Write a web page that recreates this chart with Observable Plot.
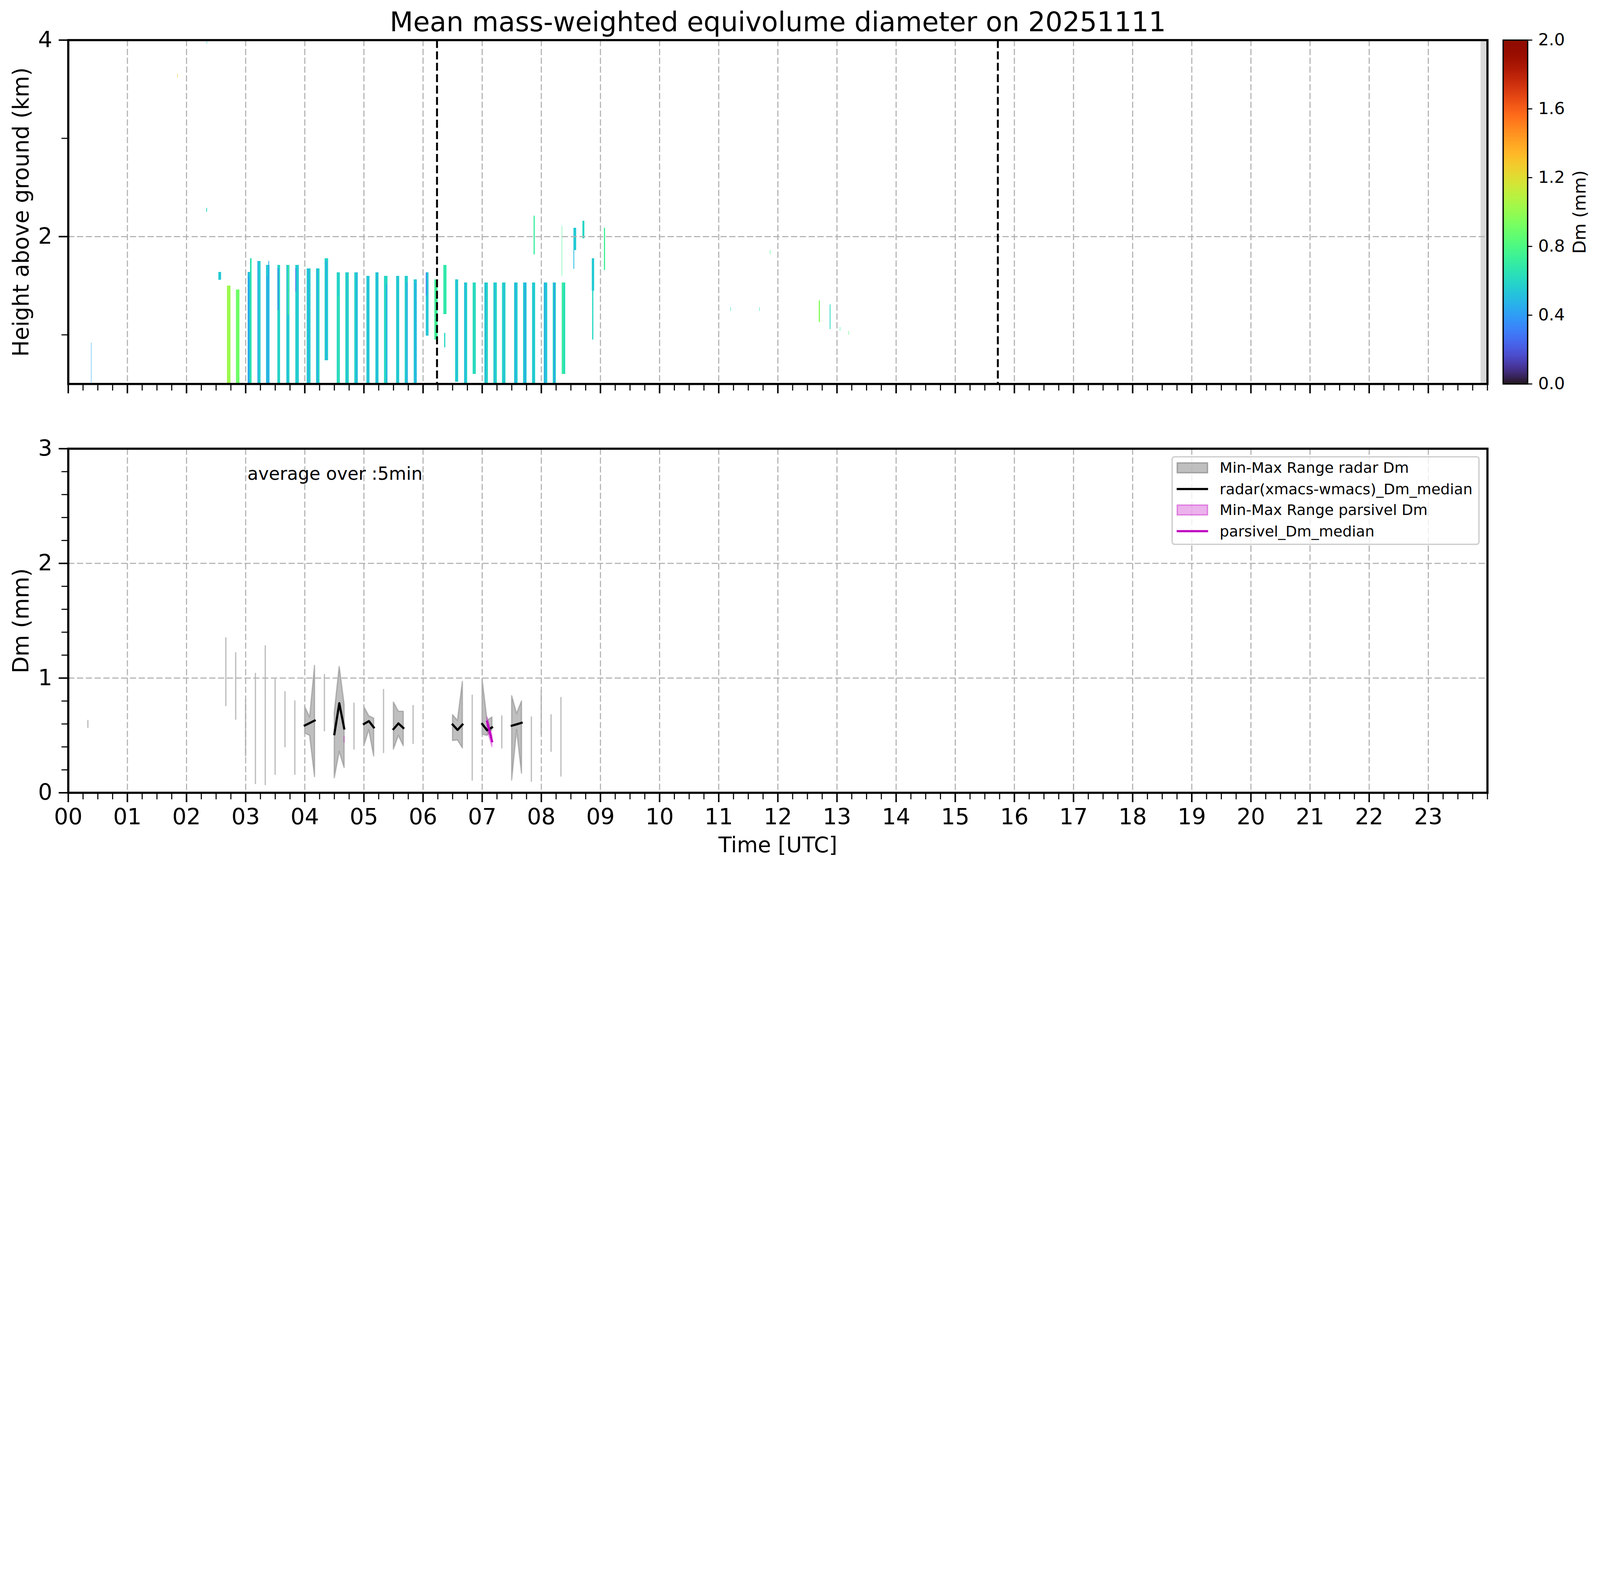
<!DOCTYPE html>
<html>
<head>
<meta charset="utf-8">
<script src="https://cdn.jsdelivr.net/npm/d3@7"></script>
<script src="https://cdn.jsdelivr.net/npm/@observablehq/plot@0.6"></script>
<style>
html, body { margin: 0; padding: 0; background: #fff; overflow: hidden; }
#fig { position: relative; width: 7442px; height: 4031px; background: #fff; font-family: 'DejaVu Sans', sans-serif; overflow: hidden; transform-origin: 0 0; }
</style>
</head>
<body>
<div id="fig"></div>
<script>
// ---------------- text ----------------
const titleText = "Mean mass-weighted equivolume diameter on 20251111";
const topYLabel = "Height above ground (km)";
const bottomYLabel = "Dm (mm)";
const xLabel = "Time [UTC]";
const colorbarLabel = "Dm (mm)";
const avgText = "average over :5min";
const legendLabels = ["Min-Max Range radar Dm", "radar(xmacs-wmacs)_Dm_median", "Min-Max Range parsivel Dm", "parsivel_Dm_median"];

// ---------------- ticks ----------------
const hourLabels = ["00","01","02","03","04","05","06","07","08","09","10","11","12","13","14","15","16","17","18","19","20","21","22","23"];
const heightTicks = [2, 4];
const heightMinorTicks = [1, 3];
const dmTicks = [0, 1, 2, 3];
const dmMinorTicks = [0.2, 0.4, 0.6, 0.8, 1.2, 1.4, 1.6, 1.8, 2.2, 2.4, 2.6, 2.8];
const colorbarTicks = [0.0, 0.4, 0.8, 1.2, 1.6, 2.0];

// ---------------- top panel: radar Dm curtains (hours UTC, km, mm) ----------------
const curtainStart = [2.688, 2.837, 2.543, 3.036, 3.072, 3.199, 3.344, 3.538, 3.688, 3.842, 4.036, 4.190, 4.339, 4.543, 4.688, 4.837, 5.041, 5.195, 5.344, 5.543, 5.692, 5.842, 6.045, 6.195, 6.344, 6.357, 6.543, 6.692, 6.842, 7.041, 7.190, 7.339, 7.543, 7.692, 7.846, 8.041, 8.195, 8.344,
  7.873, 8.344, 8.548, 8.548, 8.700, 8.853, 8.862, 9.060,
  0.385, 2.333, 1.846, 2.343, 11.198, 11.688, 11.870, 12.695, 12.878, 13.048, 13.198];
const curtainEnd = [2.747, 2.896, 2.588, 3.072, 3.100, 3.253, 3.403, 3.584, 3.742, 3.900, 4.100, 4.249, 4.394, 4.593, 4.747, 4.896, 5.095, 5.249, 5.398, 5.597, 5.747, 5.896, 6.095, 6.249, 6.398, 6.380, 6.597, 6.747, 6.896, 7.100, 7.249, 7.398, 7.597, 7.751, 7.896, 8.104, 8.249, 8.403,
  7.888, 8.356, 8.593, 8.560, 8.730, 8.895, 8.880, 9.078,
  0.392, 2.350, 1.852, 2.350, 11.206, 11.694, 11.874, 12.712, 12.890, 13.054, 13.204];
const curtainBase = [0.5, 0.5, 1.56, 0.5, 0.5, 0.5, 0.5, 0.5, 0.5, 0.5, 0.5, 0.5, 0.74, 0.5, 0.5, 0.5, 0.5, 0.5, 0.5, 0.5, 0.5, 0.5, 0.99, 0.95, 1.21, 0.87, 0.52, 0.5, 0.60, 0.5, 0.5, 0.5, 0.5, 0.5, 0.5, 0.5, 0.5, 0.60,
  1.82, 1.60, 1.86, 1.67, 1.98, 1.45, 0.95, 1.66,
  0.51, 2.25, 3.62, 3.96, 1.24, 1.24, 1.82, 1.13, 1.06, 1.04, 1.00];
const curtainTop = [1.50, 1.46, 1.64, 1.64, 1.78, 1.75, 1.71, 1.71, 1.71, 1.71, 1.675, 1.675, 1.78, 1.637, 1.637, 1.637, 1.60, 1.637, 1.60, 1.60, 1.60, 1.565, 1.637, 1.565, 1.71, 1.02, 1.565, 1.53, 1.53, 1.53, 1.53, 1.53, 1.53, 1.53, 1.53, 1.53, 1.53, 1.53,
  2.21, 2.11, 2.09, 1.86, 2.16, 1.78, 1.45, 2.09,
  0.92, 2.29, 3.66, 3.99, 1.28, 1.28, 1.86, 1.35, 1.31, 1.08, 1.04];
const curtainDm = [1.02, 0.90, 0.55, 0.52, 0.66, 0.57, 0.54, 0.59, 0.58, 0.56, 0.58, 0.60, 0.59, 0.59, 0.61, 0.58, 0.56, 0.57, 0.60, 0.58, 0.57, 0.55, 0.54, 0.70, 0.68, 0.60, 0.60, 0.58, 0.62, 0.59, 0.60, 0.61, 0.57, 0.56, 0.58, 0.55, 0.59, 0.64,
  0.72, 0.75, 0.55, 0.50, 0.60, 0.55, 0.60, 0.74,
  0.45, 0.60, 1.30, 0.60, 0.60, 0.70, 0.80, 0.95, 0.62, 0.75, 0.80];

// narrow streaks of differing Dm inside the curtains
const streakTime = [3.050, 3.208, 3.367, 3.394, 3.552, 3.710, 3.720, 3.851, 4.063, 4.215, 4.367, 4.566, 4.716, 4.878, 5.068, 5.222, 5.385, 5.575, 5.733, 5.878, 6.054, 6.217, 6.570, 6.715, 7.059, 7.215, 7.370, 7.566, 7.724, 7.873, 8.063, 8.222, 8.362];
const streakBase = [0.5, 0.5, 0.5, 0.5, 1.25, 0.5, 1.20, 1.44, 0.5, 0.5, 0.74, 0.5, 0.5, 0.5, 0.5, 0.5, 0.5, 0.5, 0.5, 0.5, 1.40, 0.95, 0.52, 0.5, 0.5, 0.5, 0.5, 0.5, 0.5, 0.5, 0.5, 0.5, 0.60];
const streakTop = [1.60, 1.75, 1.60, 1.75, 1.68, 1.71, 1.71, 1.68, 1.675, 1.675, 1.75, 1.40, 1.637, 1.637, 1.60, 1.637, 1.51, 1.60, 1.53, 1.53, 1.637, 1.565, 1.565, 1.53, 1.53, 1.53, 1.53, 1.53, 1.53, 1.53, 1.53, 1.53, 1.53];
const streakDm = [0.38, 0.42, 0.40, 0.45, 0.30, 0.48, 0.80, 0.30, 0.45, 0.45, 0.45, 0.72, 0.46, 0.42, 0.48, 0.44, 0.42, 0.48, 0.42, 0.42, 0.30, 0.85, 0.45, 0.45, 0.45, 0.46, 0.44, 0.42, 0.40, 0.50, 0.42, 0.35, 0.78];

const dayNightLines = [6.236, 15.72];   // dashed vertical markers (hours UTC)
const noDataStart = [23.885];
const noDataEnd = [24];

// ---------------- bottom panel: 5-min Dm statistics ----------------
const radarTime = ["00:20","02:40","02:50","03:00","03:10","03:20","03:30","03:40","03:50","04:00","04:05","04:10","04:20","04:30","04:35","04:40","04:50","05:00","05:05","05:10","05:20","05:30","05:35","05:40","05:50","06:30","06:35","06:40","06:50","07:00","07:05","07:10","07:20","07:30","07:35","07:40","07:50","08:00","08:10","08:20"];
const radarMin = [0.57,0.76,0.64,0.32,0.08,0.07,0.16,0.40,0.16,0.52,0.50,0.14,0.54,0.13,0.36,0.22,0.38,0.41,0.55,0.32,0.35,0.38,0.50,0.41,0.43,0.455,0.46,0.39,0.11,0.51,0.50,0.55,0.39,0.11,0.55,0.17,0.10,0.51,0.36,0.145];
const radarMax = [0.63,1.35,1.22,0.81,1.04,1.28,0.99,0.88,0.80,0.75,0.66,1.11,1.03,0.70,1.10,0.77,0.78,0.75,0.67,0.65,0.90,0.79,0.71,0.71,0.76,0.68,0.63,0.97,0.85,0.99,0.63,0.66,0.67,0.845,0.69,0.80,0.66,0.89,0.68,0.83];
const radarMedian = [null,null,null,null,null,null,null,null,null,0.587,0.608,0.63,null,0.511,0.781,0.56,null,0.60,0.625,0.57,null,0.555,0.605,0.565,null,0.595,0.548,0.595,null,0.60,0.545,0.57,null,0.585,0.597,0.61,null,null,null,null];

const parsivelTime = ["04:40","07:05","07:10"];
const parsivelMin = [0.44, 0.55, 0.40];
const parsivelMax = [0.49, 0.66, 0.50];
const parsivelMedian = [null, 0.62, 0.45];

// ---------------- helpers ----------------
const FONT = "'DejaVu Sans', sans-serif";
const W = 7442, H = 4031;
const fig = document.getElementById("fig");
function place(el, left, top) {
  el.style.position = "absolute";
  el.style.left = left + "px";
  el.style.top = top + "px";
  fig.appendChild(el);
}
const toHours = s => { const [h, m] = s.split(":").map(Number); return h + m / 60; };
// rows with a break wherever consecutive 5-min samples are missing
function seriesRows(times, mins, maxs, meds) {
  const rows = [];
  let lastT = null;
  times.forEach((s, i) => {
    const t = toHours(s);
    if (lastT !== null && t - lastT > 5.5 / 60) rows.push({t: null, min: null, max: null, med: null});
    rows.push({t, min: mins[i], max: maxs[i], med: meds[i]});
    lastT = t;
  });
  return rows;
}
const radarRows = seriesRows(radarTime, radarMin, radarMax, radarMedian);
const parsivelRows = seriesRows(parsivelTime, parsivelMin, parsivelMax, parsivelMedian);

const hoursMajor = d3.range(0, 24);
const hoursMinor = d3.range(0, 97).map(q => q / 4).filter(h => h % 1 !== 0 || h === 24);
const gridColor = "#b0b0b0";
const gridDash = "29,12";
const heightDomain = [0.5, 4];

const curtains = d3.range(curtainStart.length);
const streaks = d3.range(streakTime.length);
const streakHalf = 0.007;

// ---------------- top panel ----------------
const topPlot = Plot.plot({
  width: W, height: 1900,
  marginLeft: 317, marginRight: W - 6918, marginTop: 186, marginBottom: 115,
  style: {fontFamily: FONT, color: "black", background: "transparent", overflow: "visible"},
  x: {domain: [0, 24], axis: null},
  y: {domain: heightDomain, axis: null},
  color: {type: "linear", scheme: "turbo", domain: [0, 2]},
  marks: [
    Plot.rect(curtains, {x1: i => curtainStart[i], x2: i => curtainEnd[i], y1: i => curtainBase[i], y2: i => curtainTop[i], fill: i => curtainDm[i], shapeRendering: "crispEdges"}),
    Plot.rect(streaks, {x1: i => streakTime[i] - streakHalf, x2: i => streakTime[i] + streakHalf, y1: i => streakBase[i], y2: i => streakTop[i], fill: i => streakDm[i], shapeRendering: "crispEdges"}),
    Plot.rect(d3.range(noDataStart.length), {x1: i => noDataStart[i], x2: i => noDataEnd[i], y1: () => heightDomain[0], y2: () => heightDomain[1], fill: "#d9d9d9"}),
    Plot.gridX({ticks: hoursMajor.slice(1), stroke: gridColor, strokeOpacity: 1, strokeWidth: 5, strokeDasharray: gridDash}),
    Plot.gridY({ticks: [2], stroke: gridColor, strokeOpacity: 1, strokeWidth: 5, strokeDasharray: gridDash}),
    Plot.ruleX(dayNightLines, {stroke: "black", strokeWidth: 9, strokeDasharray: "37,16"}),
    Plot.frame({stroke: "black", strokeWidth: 10}),
    Plot.axisX({ticks: hoursMajor, tickSize: 44, strokeWidth: 7, tickFormat: () => "", label: null}),
    Plot.axisX({ticks: hoursMinor, tickSize: 31, strokeWidth: 5, tickFormat: () => "", label: null}),
    Plot.axisY({ticks: heightTicks, tickSize: 44, tickPadding: 30, strokeWidth: 7, fontSize: 104, tickFormat: d => String(d), label: null}),
    Plot.axisY({ticks: heightMinorTicks, tickSize: 31, strokeWidth: 5, tickFormat: () => "", label: null}),
    Plot.text([topYLabel], {frameAnchor: "left", dx: -218, rotate: -90, fontSize: 102, textAnchor: "middle", lineAnchor: "middle"}),
    Plot.text([titleText], {frameAnchor: "top", dy: -41, lineAnchor: "bottom", textAnchor: "middle", fontSize: 126})
  ]
});
place(topPlot, 0, 0);

// ---------------- colorbar ----------------
const cbBands = d3.range(0, 400).map(k => k * 0.005);
const cbPlot = Plot.plot({
  width: 501, height: 1900,
  marginLeft: 50, marginRight: 337, marginTop: 186, marginBottom: 115,
  style: {fontFamily: FONT, color: "black", background: "transparent", overflow: "visible"},
  x: {domain: [0, 1], axis: null},
  y: {domain: [0, 2], axis: null},
  color: {type: "linear", scheme: "turbo", domain: [0, 2]},
  marks: [
    Plot.rect(cbBands, {x1: () => 0, x2: () => 1, y1: d => d, y2: d => d + 0.0052, fill: d => d + 0.0025, shapeRendering: "crispEdges"}),
    Plot.frame({stroke: "black", strokeWidth: 6}),
    Plot.axisY({anchor: "right", ticks: colorbarTicks, tickSize: 21, tickPadding: 28, strokeWidth: 5, fontSize: 78, tickFormat: d => d.toFixed(1), label: null}),
    Plot.text([colorbarLabel], {frameAnchor: "right", dx: 243, rotate: -90, fontSize: 81, textAnchor: "middle", lineAnchor: "middle"})
  ]
});
place(cbPlot, 6941, 0);

// ---------------- bottom panel ----------------
const bottomPlot = Plot.plot({
  width: W, height: 2131,
  marginLeft: 317, marginRight: W - 6918, marginTop: 186, marginBottom: 345,
  style: {fontFamily: FONT, color: "black", background: "transparent", overflow: "visible"},
  x: {domain: [0, 24], axis: null},
  y: {domain: [0, 3], axis: null},
  marks: [
    Plot.areaY(radarRows, {x: "t", y1: "min", y2: "max", fill: "gray", fillOpacity: 0.5, stroke: "gray", strokeOpacity: 0.5, strokeWidth: 6}),
    Plot.areaY(parsivelRows, {x: "t", y1: "min", y2: "max", fill: "#bf00bf", fillOpacity: 0.3, stroke: "#bf00bf", strokeOpacity: 0.3, strokeWidth: 6}),
    Plot.gridX({ticks: hoursMajor.slice(1), stroke: gridColor, strokeOpacity: 1, strokeWidth: 5, strokeDasharray: gridDash}),
    Plot.gridY({ticks: [1, 2], stroke: gridColor, strokeOpacity: 1, strokeWidth: 5, strokeDasharray: gridDash}),
    Plot.lineY(radarRows, {x: "t", y: "med", stroke: "black", strokeWidth: 10, strokeLinecap: "square"}),
    Plot.lineY(parsivelRows, {x: "t", y: "med", stroke: "#bf00bf", strokeWidth: 10, strokeLinecap: "square"}),
    Plot.frame({stroke: "black", strokeWidth: 10}),
    Plot.axisX({ticks: hoursMajor, tickSize: 44, tickPadding: 30, strokeWidth: 7, fontSize: 104, tickFormat: h => hourLabels[h], label: null}),
    Plot.axisX({ticks: hoursMinor, tickSize: 31, strokeWidth: 5, tickFormat: () => "", label: null}),
    Plot.axisY({ticks: dmTicks, tickSize: 44, tickPadding: 30, strokeWidth: 7, fontSize: 104, tickFormat: d => String(d), label: null}),
    Plot.axisY({ticks: dmMinorTicks, tickSize: 31, strokeWidth: 5, tickFormat: () => "", label: null}),
    Plot.text([bottomYLabel], {frameAnchor: "left", dx: -218, rotate: -90, fontSize: 102, textAnchor: "middle", lineAnchor: "middle"}),
    Plot.text([xLabel], {frameAnchor: "bottom", dy: 276, lineAnchor: "bottom", textAnchor: "middle", fontSize: 100}),
    Plot.text([avgText], {frameAnchor: "top-left", dx: 833, dy: 144, textAnchor: "start", lineAnchor: "bottom", fontSize: 83})
  ]
});
place(bottomPlot, 0, 1900);

// ---------------- legend ----------------
const legend = document.createElement("div");
legend.style.cssText = "width:1433px;height:413px;box-sizing:border-box;border:6px solid #cccccc;border-radius:14px;background:rgba(255,255,255,0.8);font-family:" + FONT + ";";
const rowCenters = [54, 153, 250, 349];
const swatchHeights = [51, 10, 51, 10];
const swatchStyles = [
  "background:rgba(128,128,128,0.5);border:6px solid rgba(128,128,128,0.5);",
  "background:#000;",
  "background:rgba(191,0,191,0.3);border:6px solid rgba(191,0,191,0.3);",
  "background:#bf00bf;"
];
legendLabels.forEach((lab, i) => {
  const sw = document.createElement("div");
  sw.style.cssText = "position:absolute;left:18px;width:146px;box-sizing:border-box;height:" + swatchHeights[i] + "px;" + swatchStyles[i];
  sw.style.top = (rowCenters[i] - 6 - swatchHeights[i] / 2) + "px";
  legend.appendChild(sw);
  const tx = document.createElement("div");
  tx.textContent = lab;
  tx.style.cssText = "position:absolute;left:218px;font-size:69px;line-height:80px;height:80px;white-space:nowrap;color:#000;";
  tx.style.top = (rowCenters[i] - 6 - 40) + "px";
  legend.appendChild(tx);
});
place(legend, 5449, 2121);

// ---------------- fit the figure into the viewport ----------------
function fit() {
  const vw = window.innerWidth || document.documentElement.clientWidth || W;
  const vh = window.innerHeight || document.documentElement.clientHeight || H;
  const s = Math.min(vw / W, vh / H, 1);
  fig.style.transform = s < 0.999 ? "scale(" + s + ")" : "none";
}
fit();
window.addEventListener("resize", fit);
</script>
</body>
</html>
